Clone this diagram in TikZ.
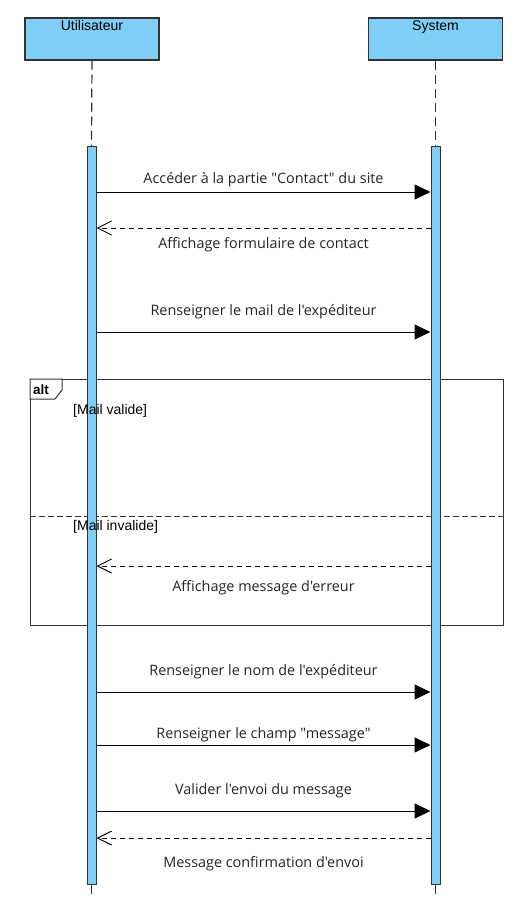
\documentclass[tikz,border=0pt]{standalone}
\usepackage{fontspec}
\setmainfont{Open Sans}[Ligatures=TeXOff]
\newfontfamily\arialfont{Liberation Sans}[Ligatures=TeXOff]
\usetikzlibrary{arrows.meta, positioning}
\definecolor{lifeblue}{RGB}{126, 206, 245}
\definecolor{darkgrey}{RGB}{51, 51, 51}

\tikzset{
    lifebox/.style={draw=darkgrey, fill=lifeblue, line width=1.2pt, minimum width=134pt, minimum height=42pt, inner sep=0pt},
    boxname/.style={font=\arialfont\fontsize{14}{16}\selectfont, inner sep=0pt, anchor=north, yshift=-3pt},
    actbar/.style={draw=darkgrey, fill=lifeblue, line width=1pt, minimum width=9pt, minimum height=737pt, inner sep=0pt},
    lifeline/.style={darkgrey, line width=1.2pt, dash pattern=on 9pt off 5pt},
    msg/.style={black, line width=1pt, -{Triangle[length=16pt, width=15pt]}},
    ret/.style={black, line width=1pt, dash pattern=on 5pt off 4pt, -{Straight Barb[length=14pt, width=14pt, line width=1pt]}},
    msglabel/.style={font=\fontsize{14.4}{16}\selectfont, inner sep=0pt, text height=10.5pt, text depth=3.5pt, text=black!85},
    guard/.style={font=\arialfont\fontsize{14}{16}\selectfont, inner sep=0pt, anchor=west}
}

\begin{document}
\begin{tikzpicture}[x=1pt, y=-1pt]
    \useasboundingbox[fill=white] (0,0) rectangle (521,920);

    % Draw the alt frame with its tab
    \draw[darkgrey, line width=1pt] (30,379) rectangle (503,625);
    \draw[darkgrey, line width=1pt, fill=white] (30,379) -- (62,379) -- (62,390) -- (55,399) -- (30,399) -- cycle;
    \node[font=\arialfont\bfseries\fontsize{13.5}{16}\selectfont, anchor=west, inner sep=0pt] (altTag) at (33,389.5) {alt};
    \draw[darkgrey, line width=1pt, dash pattern=on 6pt off 3pt] (30,516) -- (503,516);

    % Draw the lifeline heads
    \node[lifebox, label={[boxname, name=userName]north:Utilisateur}] (user) at (92,39) {};
    \node[lifebox, label={[boxname, name=systemName]north:System}] (system) at (435.5,39) {};

    % Draw the activation bars
    \node[actbar] (barU) at (91.5,515.5) {};
    \node[actbar] (barS) at (435.5,515.5) {};
    \coordinate (userEnd) at (91.5,898);
    \coordinate (systemEnd) at (435.5,898);

    % Dashed lifelines above and below the bars
    \draw[lifeline] (user.south) -- (barU.north);
    \draw[lifeline] (system.south) -- (barS.north);
    \draw[lifeline] (barU.south) -- (userEnd);
    \draw[lifeline] (barS.south) -- (systemEnd);

    % Guards of the alt frame
    \node[guard] (guardValid) at (73,411) {[Mail valide]};
    \node[guard] (guardInvalid) at (73,527) {[Mail invalide]};

    % Messages
    \draw[msg] (barU.east |- 0,192) -- (barS.west |- 0,192) node[msglabel, midway, above=5pt] {Accéder à la partie "Contact" du site};
    \draw[ret] (barS.west |- 0,228) -- (barU.east |- 0,228) node[msglabel, midway, below=9pt] {Affichage formulaire de contact};
    \draw[msg] (barU.east |- 0,332) -- (barS.west |- 0,332) node[msglabel, midway, above=13pt] {Renseigner le mail de l'expéditeur};
    \draw[ret] (barS.west |- 0,566) -- (barU.east |- 0,566) node[msglabel, midway, below=14pt] {Affichage message d'erreur};
    \draw[msg] (barU.east |- 0,692) -- (barS.west |- 0,692) node[msglabel, midway, above=13pt] {Renseigner le nom de l'expéditeur};
    \draw[msg] (barU.east |- 0,745) -- (barS.west |- 0,745) node[msglabel, midway, above=3pt] {Renseigner le champ "message"};
    \draw[msg] (barU.east |- 0,811) -- (barS.west |- 0,811) node[msglabel, midway, above=13pt] {Valider l'envoi du message};
    \draw[ret] (barS.west |- 0,838) -- (barU.east |- 0,838) node[msglabel, midway, below=18pt] {Message confirmation d'envoi};
\end{tikzpicture}
\end{document}
